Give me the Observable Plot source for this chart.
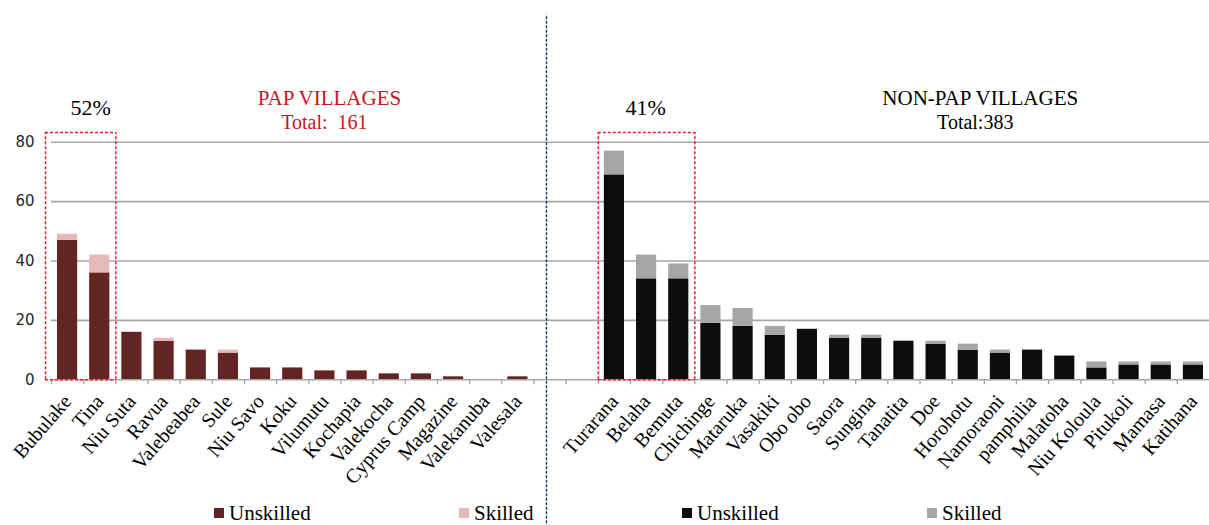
<!DOCTYPE html>
<html>
<head>
<meta charset="utf-8">
<script src="https://cdn.jsdelivr.net/npm/d3@7"></script>
<script src="https://cdn.jsdelivr.net/npm/@observablehq/plot@0.6"></script>
<style>
  body { margin: 0; background: #fff; }
  #wrap { position: relative; width: 1209px; height: 525px; overflow: hidden; }
  .legend { position: absolute; left: 0; top: 0; width: 1209px; height: 525px; pointer-events: none;
            font-family: "Liberation Serif", serif; font-size: 21px; color: #000; }
  .item { position: absolute; top: 501px; height: 24px; line-height: 24px; display: flex; align-items: center; white-space: nowrap; }
  .sw { width: 10px; height: 10px; margin-right: 5px; }
</style>
</head>
<body>
<div id="wrap"></div>
<script>
// ---------- data ----------
const papVillages = ["Bubulake", "Tina", "Niu Suta", "Ravua", "Valebeabea", "Sule", "Niu Savo", "Koku",
  "Vilumutu", "Kochapia", "Valekocha", "Cyprus Camp", "Magazine", "Valekanuba", "Valesala"];
const papUnskilled = [47, 36, 16, 13, 10, 9, 4, 4, 3, 3, 2, 2, 1, 0, 1];
const papSkilled   = [2, 6, 0, 1, 0, 1, 0, 0, 0, 0, 0, 0, 0, 0, 0];

const nonPapVillages = ["Turarana", "Belaha", "Bemuta", "Chichinge", "Mataruka", "Vasakiki", "Obo obo", "Saora",
  "Sungina", "Tanatita", "Doe", "Horohotu", "Namoraoni", "pamphilia", "Malatoha", "Niu Koloula", "Pitukoli",
  "Mamasa", "Katihana"];
const nonPapUnskilled = [69, 34, 34, 19, 18, 15, 17, 14, 14, 13, 12, 10, 9, 10, 8, 4, 5, 5, 5];
const nonPapSkilled   = [8, 8, 5, 6, 6, 3, 0, 1, 1, 0, 1, 2, 1, 0, 0, 2, 1, 1, 1];

const gapSlots = ["gap1", "gap2"];
const yTicks = [0, 20, 40, 60, 80];
const seriesNames = ["Unskilled", "Skilled"];

const papTitle = "PAP VILLAGES", papTotal = "Total:  161";
const nonPapTitle = "NON-PAP VILLAGES", nonPapTotal = "Total:383";
const highlights = [
  {from: "Bubulake", to: "Tina", label: "52%", labelAt: "Tina"},
  {from: "Turarana", to: "Bemuta", label: "41%", labelAt: "Belaha"}
];

// ---------- colours / layout ----------
const keys = ["PAP Unskilled", "PAP Skilled", "NON Unskilled", "NON Skilled"];
const colors = ["#632523", "#e6b9b8", "#0d0d0d", "#a6a6a6"];

const W = 1209, H = 525, mL = 51, mR = 0, mT = 141.7, mB = 145.7;
const domain = [...papVillages, ...gapSlots, ...nonPapVillages];
const step = (W - mL - mR) / domain.length;

const rows = [];
papVillages.forEach((v, i) => {
  rows.push({village: v, key: "PAP Unskilled", value: papUnskilled[i]});
  rows.push({village: v, key: "PAP Skilled", value: papSkilled[i]});
});
nonPapVillages.forEach((v, i) => {
  rows.push({village: v, key: "NON Unskilled", value: nonPapUnskilled[i]});
  rows.push({village: v, key: "NON Skilled", value: nonPapSkilled[i]});
});

// annotation levels (in y units)
const boxTop = 83.3, titleY = 92.4, totalY = 84.6, pctY = 89.1;
const boxExtraLeft = [6, 0];
const pctDx = [-9, -1];

const boxMarks = highlights.flatMap((b, i) => {
  const style = {stroke: "#e8202a", strokeWidth: 1.5, strokeDasharray: "3,2"};
  return [
    Plot.ruleY([boxTop, 0], {y: d => d, x1: () => b.from, x2: () => b.to, insetLeft: -boxExtraLeft[i], ...style}),
    Plot.ruleX([b.from], {x: d => d, y1: 0, y2: boxTop, dx: -step / 2 - boxExtraLeft[i], ...style}),
    Plot.ruleX([b.to], {x: d => d, y1: 0, y2: boxTop, dx: step / 2, ...style}),
    Plot.text([b.label], {x: () => b.labelAt, y: pctY, text: d => d, dx: pctDx[i],
      lineAnchor: "bottom", fontSize: 22, fontFamily: "Liberation Serif", fill: "#000"})
  ];
});

const chart = Plot.plot({
  width: W, height: H,
  marginLeft: mL, marginRight: mR, marginTop: mT, marginBottom: mB,
  style: {fontFamily: "Liberation Serif", fontSize: "20px", color: "#000", background: "#fff", overflow: "visible"},
  x: {type: "band", domain, padding: 0, round: false, label: null},
  y: {domain: [0, 80], label: null},
  color: {domain: keys, range: colors},
  marks: [
    Plot.ruleY(yTicks.filter(t => t > 0), {y: d => d, stroke: "#a6a6a6", strokeWidth: 1.6}),
    Plot.barY(rows, {x: "village", y: "value", fill: "key", insetLeft: 6, insetRight: 6}),
    Plot.ruleY([0], {y: d => d, stroke: "#a6a6a6", strokeWidth: 1.6}),
    Plot.ruleX(domain, {x: d => d, y1: 0, y2: -1.7, dx: -step / 2, stroke: "#a6a6a6", strokeWidth: 1.3}),
    Plot.axisY({ticks: yTicks, label: null, tickSize: 0, tickPadding: 17, fontSize: 15, fontFamily: "DejaVu Sans", fill: "#262626"}),
    Plot.axisX({label: null, tickRotate: -49, tickSize: 0, tickPadding: 18, fontSize: 20, fontFamily: "Liberation Serif", fill: "#000",
      tickFormat: d => gapSlots.includes(d) ? "" : d}),
    ...boxMarks,
    Plot.ruleX(["gap1"], {x: d => d, y1: -50, y2: 122.8, dx: -3.6, stroke: "#1f3864", strokeWidth: 1.4, strokeDasharray: "3,1.5"}),
    Plot.text([papTitle], {x: () => "Vilumutu", y: titleY, text: d => d, dx: 4.6, lineAnchor: "bottom",
      fontSize: 21, fontFamily: "Liberation Serif", fill: "#c8141e"}),
    Plot.text([papTotal], {x: () => "Vilumutu", y: totalY, text: d => d, dx: -0.6, lineAnchor: "bottom",
      fontSize: 20, fontFamily: "Liberation Serif", fill: "#c8141e"}),
    Plot.text([nonPapTitle], {x: () => "Horohotu", y: titleY, text: d => d, dx: 12, lineAnchor: "bottom",
      fontSize: 21, fontFamily: "Liberation Serif", fill: "#000"}),
    Plot.text([nonPapTotal], {x: () => "Horohotu", y: totalY, text: d => d, dx: 7, lineAnchor: "bottom",
      fontSize: 20, fontFamily: "Liberation Serif", fill: "#000"})
  ]
});

const wrap = document.getElementById("wrap");
wrap.appendChild(chart);

// legend (HTML, overlaid at the bottom)
const legend = document.createElement("div");
legend.className = "legend";
const legendItems = [
  {name: seriesNames[0], color: colors[0], left: 214},
  {name: seriesNames[1], color: colors[1], left: 459},
  {name: seriesNames[0], color: colors[2], left: 682},
  {name: seriesNames[1], color: colors[3], left: 927}
];
legendItems.forEach(it => {
  const d = document.createElement("div");
  d.className = "item";
  d.style.left = it.left + "px";
  const sw = document.createElement("span");
  sw.className = "sw";
  sw.style.background = it.color;
  const t = document.createElement("span");
  t.textContent = it.name;
  d.appendChild(sw); d.appendChild(t);
  legend.appendChild(d);
});
wrap.appendChild(legend);
</script>
</body>
</html>
